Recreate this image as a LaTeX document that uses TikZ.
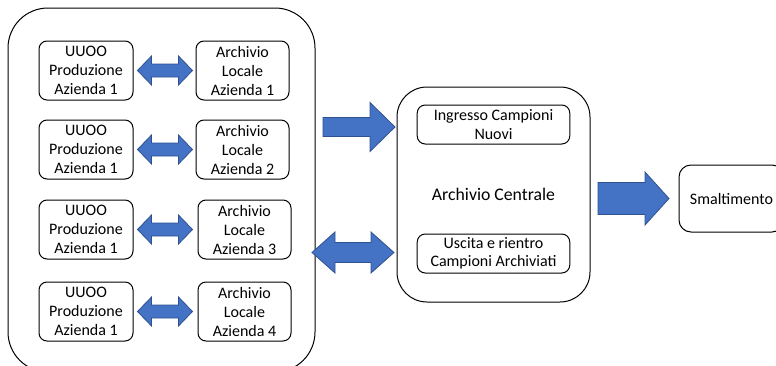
\documentclass[tikz,border=0pt]{standalone}
\usepackage{fontspec}
\setmainfont{Carlito}
\usetikzlibrary{positioning, calc}

\definecolor{arrowfill}{HTML}{4472C4}
\definecolor{arrowline}{HTML}{2F528F}

% single block arrow: start (left middle), length, head length, head half, shaft half
\newcommand{\sglarr}[5]{%
	\draw[blockarrow] #1 -- ++(0,-#5) -- ++(#2-#3,0) -- ++(0,-#4+#5) -- ++(#3,#4)
		-- ++(-#3,#4) -- ++(0,-#4+#5) -- ++(-#2+#3,0) -- cycle;}
% double block arrow: start (left tip), length, head length, head half, shaft half
\newcommand{\dblarr}[5]{%
	\draw[blockarrow] #1 -- ++(#3,-#4) -- ++(0,#4-#5) -- ++(#2-2*#3,0) -- ++(0,-#4+#5)
		-- ++(#3,#4) -- ++(-#3,#4) -- ++(0,-#4+#5) -- ++(-#2+2*#3,0) -- ++(0,#4-#5) -- cycle;}

\tikzset{
	box/.style={draw, rounded corners=6pt, line width=0.75pt, inner sep=0pt, align=center,
		minimum width=70.5pt, minimum height=44.25pt, font=\fontsize{12}{14.25}\selectfont},
	subbox/.style={draw, rounded corners=6pt, line width=0.75pt, inner sep=0pt, align=center,
		minimum width=114.4pt, minimum height=29.25pt, font=\fontsize{12}{13.8}\selectfont},
	bigbox/.style={draw, line width=0.75pt, inner sep=0pt},
	blockarrow/.style={fill=arrowfill, draw=arrowline, line width=0.6pt},
}

\begin{document}
\begin{tikzpicture}[x=0.75pt, y=-0.75pt]
	\useasboundingbox (0,0) rectangle (776,365);

	% zona aziende
	\node[bigbox, rounded corners=30pt, minimum width=230.25pt, minimum height=273pt] (aziende) at (161.5,190) {};

	\node[box] 					(u1) 	at (86,70.5) 	{UUOO\\Produzione\\Azienda 1};
	\node[box] 					(u2) 	at (86,149.5) 	{UUOO\\Produzione\\Azienda 1};
	\node[box] 					(u3) 	at (86,229.5) 	{UUOO\\Produzione\\Azienda 1};
	\node[box] 					(u4) 	at (86,311.5) 	{UUOO\\Produzione\\Azienda 1};
	\node[box, minimum width=69.75pt] 	(a1) 	at (242.5,70.5) 	{Archivio\\Locale\\Azienda 1};
	\node[box, minimum width=69.75pt] 	(a2) 	at (242.5,149.5) 	{Archivio\\Locale\\Azienda 2};
	\node[box, minimum width=69.75pt] 	(a3) 	at (244.5,229.5) 	{Archivio\\Locale\\Azienda 3};
	\node[box, minimum width=69.75pt] 	(a4) 	at (244.5,311.5) 	{Archivio\\Locale\\Azienda 4};

	\foreach \i in {1,...,4}
		\dblarr{($(u\i.east)+(4,0)$)}{55}{14}{14.5}{6.5};

	% archivio centrale
	\node[bigbox, rounded corners=22.5pt, minimum width=144.75pt, minimum height=161.25pt,
		font=\fontsize{13.3}{16}\selectfont] (centrale) at (493.5,194.5) {Archivio Centrale};
	\node[subbox] 	(ingresso) 	at (493.5,124.5) 	{Ingresso Campioni\\Nuovi};
	\node[subbox] 	(uscita) 	at (493.5,253.5) 	{Uscita e rientro\\Campioni Archiviati};

	\coordinate (inA) at (323,127);
	\coordinate (ioA) at (312,252.5);
	\sglarr{(inA)}{72}{25}{24.5}{9.5}
	\dblarr{(ioA)}{82}{23}{20.5}{10}

	% smaltimento
	\node[box, rounded corners=9pt, minimum width=78.75pt, minimum height=50.25pt] (smalt) at (731.5,198.5) {Smaltimento};
	\coordinate (outA) at (598,198.5);
	\sglarr{(outA)}{71}{24}{26.5}{16}
\end{tikzpicture}
\end{document}
